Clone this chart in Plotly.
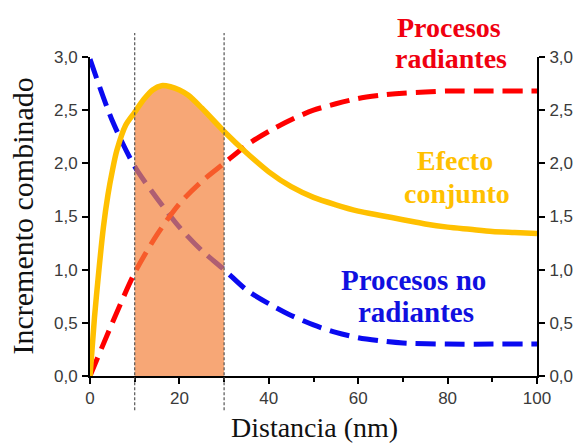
import plotly.graph_objects as go

# ---- data ----
dist_y = [0, 1, 2, 3, 4, 5, 6, 8, 10, 12, 14, 16, 18, 20, 22, 25, 30, 35, 40, 45, 50, 55, 60, 65, 70, 75, 80, 85, 90, 95, 100]
efecto = [0.0, 0.55, 1.0, 1.4, 1.7, 1.93, 2.12, 2.36, 2.48, 2.60, 2.69, 2.73, 2.72, 2.69, 2.64, 2.52, 2.30, 2.10, 1.92, 1.78, 1.68, 1.61, 1.55, 1.51, 1.47, 1.43, 1.40, 1.38, 1.36, 1.35, 1.34]

dist_r = [0, 5, 10, 15, 20, 25, 30, 35, 40, 45, 50, 55, 60, 65, 70, 75, 80, 90, 100]
radiantes = [0.0, 0.50, 0.97, 1.33, 1.62, 1.83, 2.0, 2.17, 2.30, 2.41, 2.50, 2.56, 2.61, 2.64, 2.66, 2.67, 2.68, 2.68, 2.68]

dist_b = [0, 5, 10, 15, 20, 25, 30, 35, 40, 45, 50, 55, 60, 65, 70, 80, 90, 100]
no_radiantes = [2.98, 2.40, 1.97, 1.67, 1.40, 1.18, 1.0, 0.81, 0.68, 0.57, 0.48, 0.41, 0.36, 0.33, 0.31, 0.30, 0.30, 0.30]

region = [10, 30]
x_ticks = [0, 20, 40, 60, 80, 100]
y_ticks = [0, 0.5, 1.0, 1.5, 2.0, 2.5, 3.0]

# ---- figure ----
fig = go.Figure()
fig.add_trace(go.Scatter(x=dist_b, y=no_radiantes, mode="lines", line=dict(color="#0A0AF0", width=5, dash="20px,9px", shape="spline", smoothing=0.8), showlegend=False, hoverinfo="skip"))
fig.add_trace(go.Scatter(x=dist_r, y=radiantes, mode="lines", line=dict(color="#FF0000", width=5, dash="20px,9px", shape="spline", smoothing=0.8), showlegend=False, hoverinfo="skip"))

fx = [x for x in dist_y if region[0] <= x <= region[1]]
fy = [y for x, y in zip(dist_y, efecto) if region[0] <= x <= region[1]]
fig.add_trace(go.Scatter(x=fx, y=fy, mode="lines", line=dict(width=0, shape="spline", smoothing=0.8), fill="tozeroy", fillcolor="rgba(243,129,60,0.70)", showlegend=False, hoverinfo="skip"))

fig.add_trace(go.Scatter(x=dist_y, y=efecto, mode="lines", line=dict(color="#FFC000", width=5.5, shape="spline", smoothing=0.8), showlegend=False, hoverinfo="skip"))
fig.add_trace(go.Scatter(x=[0], y=[0], yaxis="y2", mode="markers", marker=dict(opacity=0), showlegend=False, hoverinfo="skip"))

for xv in region:
    fig.add_shape(type="line", xref="x", yref="paper", x0=xv, x1=xv, y0=-0.107, y1=1.075, line=dict(color="#555555", width=1.2, dash="3px,2px"))

tickfont = dict(family="Liberation Sans, Arial, sans-serif", size=17, color="#3a3a3a")
axis_common = dict(showgrid=False, zeroline=False, showline=True, linecolor="black", linewidth=2, automargin=False,
                   ticks="outside", ticklen=6, tickwidth=2, tickcolor="black", tickfont=tickfont)

fig.update_layout(
    width=574, height=443,
    margin=dict(l=90, r=37, t=57, b=67),
    plot_bgcolor="white", paper_bgcolor="white",
    separators=",.",
    xaxis=dict(range=[0, 100], tickvals=x_ticks, minor=dict(dtick=10, tick0=0, ticks="outside", ticklen=4, tickwidth=2, tickcolor="black"), **axis_common),
    yaxis=dict(range=[0, 3], tickvals=y_ticks, tickformat=".1f", ticklabelstandoff=1, **axis_common),
    yaxis2=dict(range=[0, 3], tickvals=y_ticks, tickformat=".1f", overlaying="y", side="right", ticklabelstandoff=1, **axis_common),
)

serif = "Liberation Serif, Times New Roman, serif"
labels = [
    ("Procesos", 0.804, 1.091, "#F00010", 28),
    ("radiantes", 0.808, 0.994, "#F00010", 28),
    ("Efecto", 0.817, 0.674, "#FFC000", 28),
    ("conjunto", 0.821, 0.571, "#FFC000", 28),
    ("Procesos no", 0.724, 0.301, "#1010E0", 29),
    ("radiantes", 0.729, 0.201, "#1010E0", 29),
]
for txt, px, py, col, sz in labels:
    fig.add_annotation(text="<b>" + txt + "</b>", x=px, y=py, xref="paper", yref="paper", showarrow=False,
                       xanchor="center", yanchor="middle", font=dict(family=serif, size=sz, color=col))

fig.add_annotation(text="Incremento combinado", x=-0.152, y=0.5, xref="paper", yref="paper", showarrow=False,
                   textangle=-90, xanchor="center", yanchor="middle", font=dict(family=serif, size=30, color="#111111"))
fig.add_annotation(text="Distancia (nm)", x=0.502, y=-0.163, xref="paper", yref="paper", showarrow=False,
                   xanchor="center", yanchor="middle", font=dict(family=serif, size=28, color="#111111"))

fig.write_html("out.html")
